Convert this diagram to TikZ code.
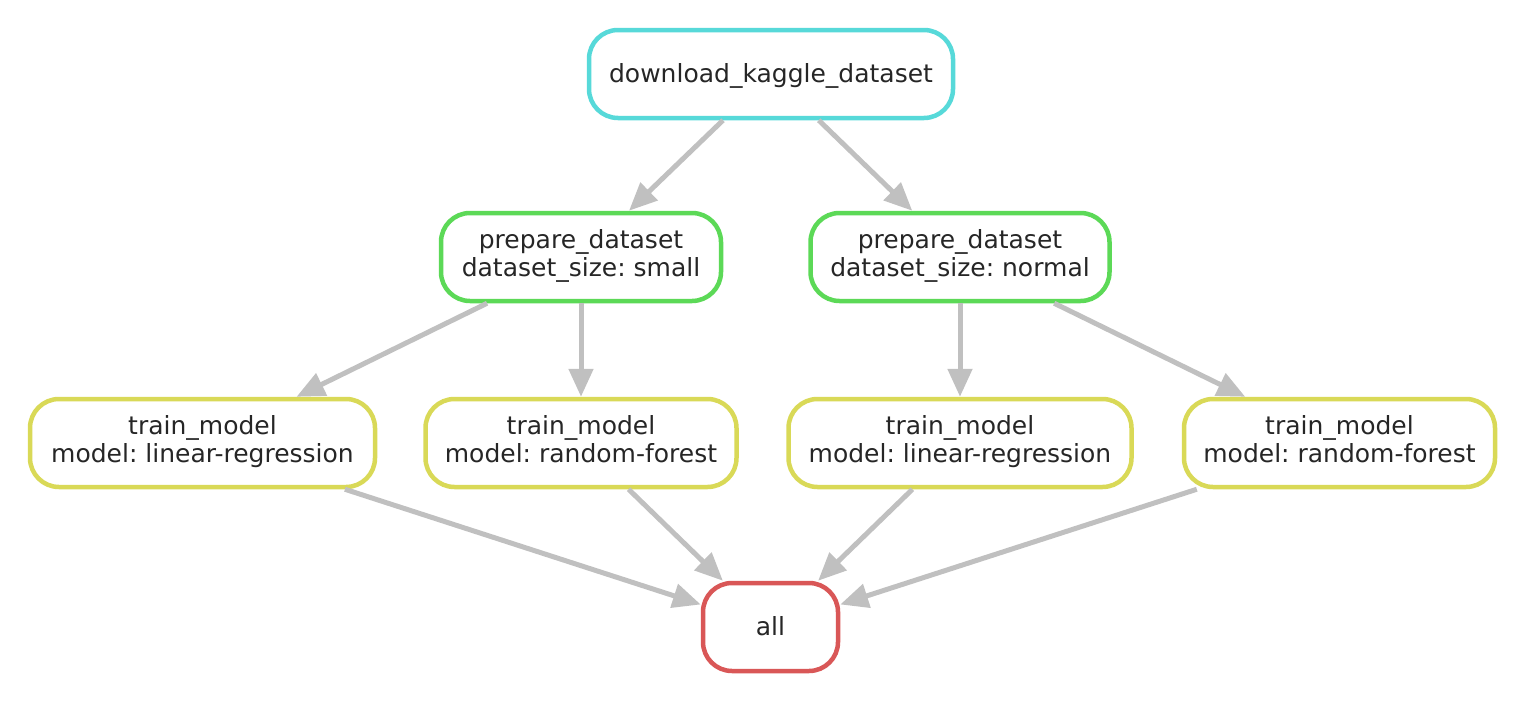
\documentclass[tikz,border=0pt]{standalone}
\usepackage{fontspec}
\setmainfont{DejaVu Sans}
\usetikzlibrary{arrows.meta}
\definecolor{ccyan}{HTML}{57D9D9}
\definecolor{cgreen}{HTML}{5CD957}
\definecolor{cyellow}{HTML}{D9D957}
\definecolor{cred}{HTML}{D95757}
\definecolor{cedge}{HTML}{C0C0C0}
\newcommand{\jobline}[1]{#1\strut}
\newcommand{\jobsingle}[1]{\raisebox{-2.5pt}{#1}\strut}
\begin{document}
\frenchspacing
\begin{tikzpicture}[x=1pt,y=-1pt,
  job/.style={draw, line width=4.5pt, rounded corners=29pt, fill=white,
    minimum height=88pt, inner sep=0pt, align=center, text=black!85,
    font=\fontsize{25}{28}\selectfont},
  flow/.style={draw=cedge, line width=5pt, -{Triangle[length=28pt,width=24pt]}}]
\useasboundingbox (0,0) rectangle (1526,704);
\node[job, draw=ccyan, minimum width=364pt] (dl) at (771,74) {\jobsingle{download\_kaggle\_dataset}};
\node[job, draw=cgreen, minimum width=280pt] (ps) at (581,257) {\jobline{prepare\_dataset}\\\jobline{dataset\_size: small}};
\node[job, draw=cgreen, minimum width=299pt] (pn) at (960,257) {\jobline{prepare\_dataset}\\\jobline{dataset\_size: normal}};
\node[job, draw=cyellow, minimum width=345pt] (t1) at (202.5,443) {\jobline{train\_model}\\\jobline{model: linear-regression}};
\node[job, draw=cyellow, minimum width=311pt] (t2) at (581,443) {\jobline{train\_model}\\\jobline{model: random-forest}};
\node[job, draw=cyellow, minimum width=343pt] (t3) at (960,443) {\jobline{train\_model}\\\jobline{model: linear-regression}};
\node[job, draw=cyellow, minimum width=311pt] (t4) at (1339.5,443) {\jobline{train\_model}\\\jobline{model: random-forest}};
\node[job, draw=cred, minimum width=135pt] (all) at (770.5,627) {\jobsingle{all}};
\draw[flow] (dl) -- (ps);
\draw[flow] (dl) -- (pn);
\draw[flow] (ps) -- (t1);
\draw[flow] (ps) -- (t2);
\draw[flow] (pn) -- (t3);
\draw[flow] (pn) -- (t4);
\draw[flow] (t1) -- (all);
\draw[flow] (t2) -- (all);
\draw[flow] (t3) -- (all);
\draw[flow] (t4) -- (all);
\end{tikzpicture}
\end{document}
